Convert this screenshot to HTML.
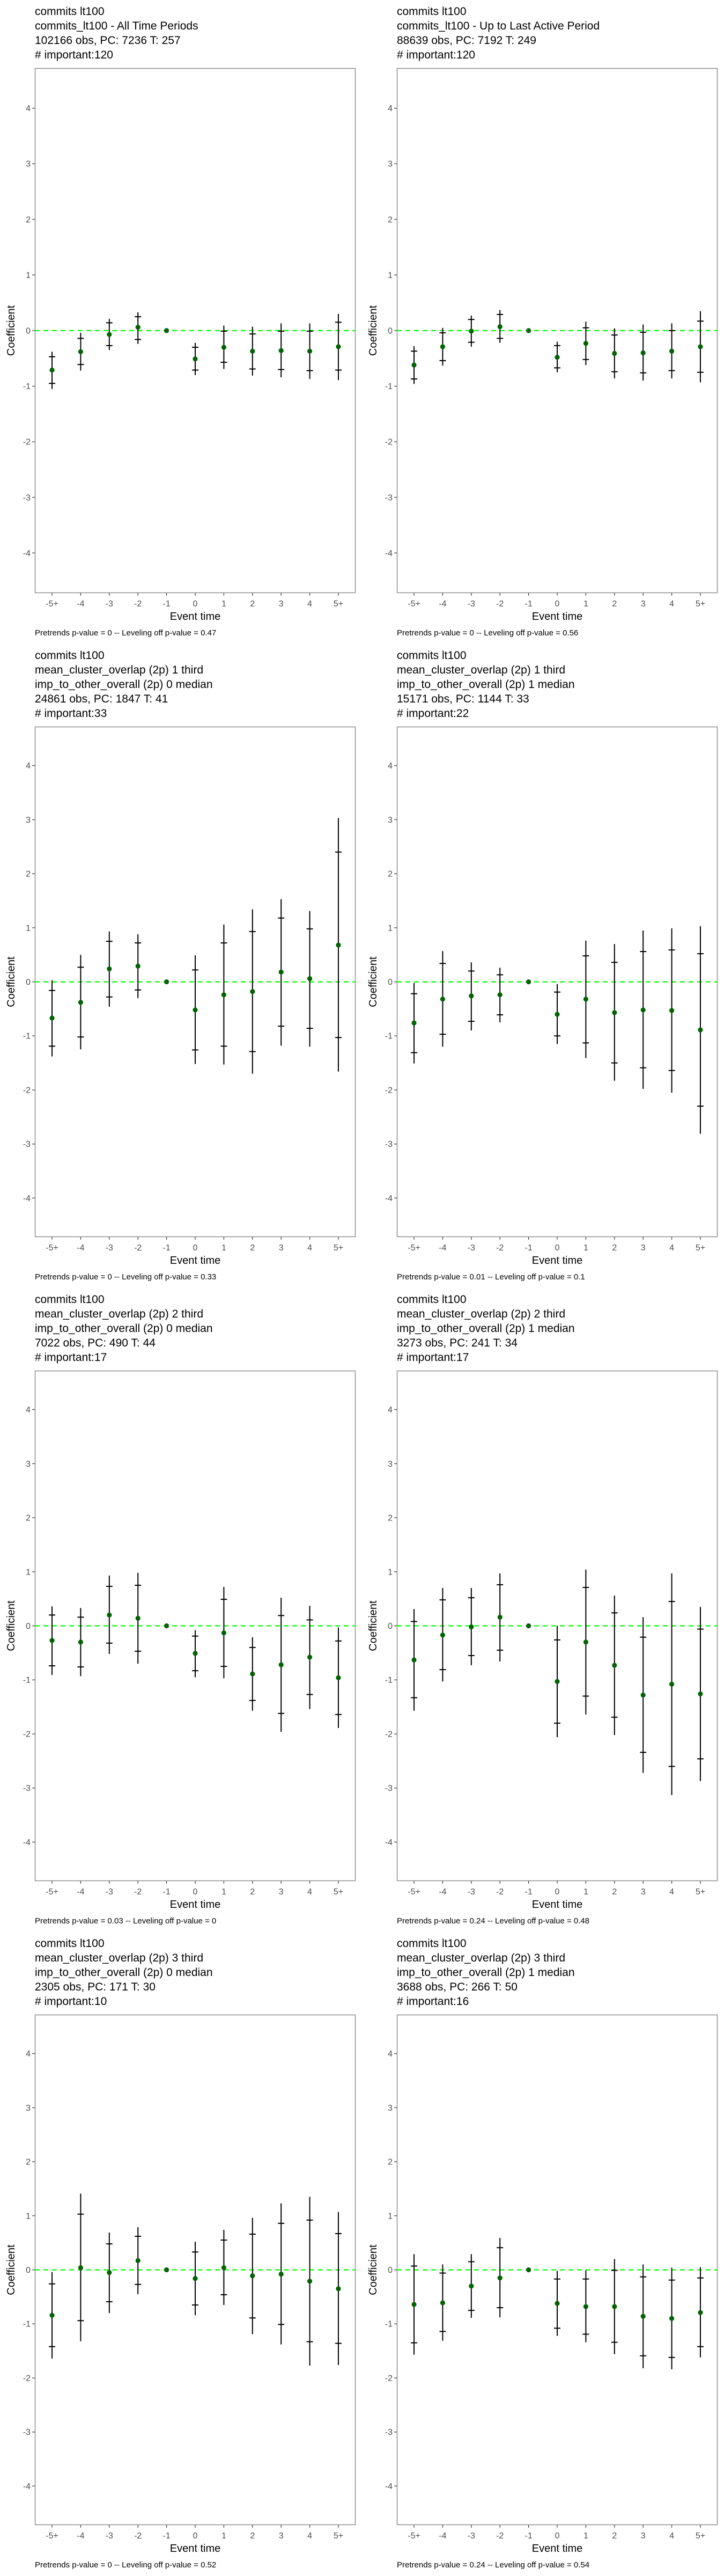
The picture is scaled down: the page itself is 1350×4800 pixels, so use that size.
<!DOCTYPE html>
<html><head><meta charset="utf-8"><style>
html,body{margin:0;padding:0;background:#fff;}
svg{display:block;font-family:"Liberation Sans",Arial,sans-serif;}
</style></head><body>
<svg id="fig" width="1350" height="4800" viewBox="0 0 1350 4800" xmlns="http://www.w3.org/2000/svg"></svg>
<script>
// ---------- data ----------
const categories = ["-5+","-4","-3","-2","-1","0","1","2","3","4","5+"];
const yTicks = [-4,-3,-2,-1,0,1,2,3,4];

const titles = [
 ["commits lt100","commits_lt100 - All Time Periods","102166 obs, PC: 7236 T: 257","# important:120"],
 ["commits lt100","commits_lt100 - Up to Last Active Period","88639 obs, PC: 7192 T: 249","# important:120"],
 ["commits lt100","mean_cluster_overlap (2p) 1 third","imp_to_other_overall (2p) 0 median","24861 obs, PC: 1847 T: 41","# important:33"],
 ["commits lt100","mean_cluster_overlap (2p) 1 third","imp_to_other_overall (2p) 1 median","15171 obs, PC: 1144 T: 33","# important:22"],
 ["commits lt100","mean_cluster_overlap (2p) 2 third","imp_to_other_overall (2p) 0 median","7022 obs, PC: 490 T: 44","# important:17"],
 ["commits lt100","mean_cluster_overlap (2p) 2 third","imp_to_other_overall (2p) 1 median","3273 obs, PC: 241 T: 34","# important:17"],
 ["commits lt100","mean_cluster_overlap (2p) 3 third","imp_to_other_overall (2p) 0 median","2305 obs, PC: 171 T: 30","# important:10"],
 ["commits lt100","mean_cluster_overlap (2p) 3 third","imp_to_other_overall (2p) 1 median","3688 obs, PC: 266 T: 50","# important:16"]
];
const pretrendP = ["0","0","0","0.01","0.03","0.24","0","0.24"];
const levelingP = ["0.47","0.56","0.33","0.1","0","0.48","0.52","0.54"];

// panel 1
const est1 = [-0.71,-0.38,-0.07,0.06,0,-0.51,-0.30,-0.37,-0.36,-0.37,-0.29];
const hiIn1 = [-0.47,-0.14,0.14,0.25,0,-0.30,-0.01,-0.06,-0.01,-0.01,0.15];
const loIn1 = [-0.95,-0.61,-0.27,-0.16,0,-0.71,-0.57,-0.69,-0.70,-0.72,-0.71];
const hiOut1 = [-0.38,-0.04,0.21,0.33,0,-0.22,0.09,0.07,0.13,0.13,0.30];
const loOut1 = [-1.05,-0.72,-0.35,-0.24,0,-0.80,-0.69,-0.81,-0.84,-0.87,-0.89];
// panel 2
const est2 = [-0.62,-0.29,-0.01,0.07,0,-0.48,-0.23,-0.41,-0.40,-0.37,-0.29];
const hiIn2 = [-0.37,-0.04,0.20,0.29,0,-0.27,0.05,-0.08,-0.03,0.00,0.17];
const loIn2 = [-0.87,-0.54,-0.21,-0.14,0,-0.67,-0.52,-0.74,-0.76,-0.72,-0.75];
const hiOut2 = [-0.28,0.05,0.27,0.37,0,-0.20,0.16,0.04,0.11,0.13,0.35];
const loOut2 = [-0.96,-0.63,-0.29,-0.22,0,-0.75,-0.62,-0.86,-0.90,-0.86,-0.93];
// panel 3
const est3 = [-0.67,-0.38,0.24,0.29,0,-0.52,-0.24,-0.18,0.18,0.06,0.68];
const hiIn3 = [-0.16,0.27,0.75,0.72,0,0.22,0.72,0.93,1.18,0.98,2.40];
const loIn3 = [-1.19,-1.02,-0.28,-0.15,0,-1.26,-1.19,-1.29,-0.82,-0.86,-1.03];
const hiOut3 = [0.03,0.50,0.93,0.88,0,0.49,1.06,1.34,1.53,1.31,3.03];
const loOut3 = [-1.38,-1.25,-0.46,-0.30,0,-1.52,-1.53,-1.70,-1.18,-1.20,-1.66];
// panel 4
const est4 = [-0.76,-0.32,-0.26,-0.24,0,-0.60,-0.32,-0.57,-0.52,-0.53,-0.89];
const hiIn4 = [-0.22,0.34,0.20,0.13,0,-0.19,0.48,0.36,0.56,0.59,0.52];
const loIn4 = [-1.31,-0.97,-0.73,-0.61,0,-1.00,-1.13,-1.50,-1.59,-1.64,-2.30];
const hiOut4 = [-0.02,0.57,0.36,0.26,0,-0.04,0.76,0.70,0.95,0.99,1.03];
const loOut4 = [-1.51,-1.20,-0.90,-0.75,0,-1.15,-1.41,-1.83,-1.98,-2.05,-2.81];
// panel 5
const est5 = [-0.27,-0.30,0.20,0.14,0,-0.51,-0.13,-0.89,-0.72,-0.58,-0.96];
const hiIn5 = [0.20,0.16,0.73,0.75,0,-0.19,0.49,-0.40,0.19,0.11,-0.28];
const loIn5 = [-0.74,-0.76,-0.32,-0.47,0,-0.83,-0.75,-1.38,-1.62,-1.27,-1.64];
const hiOut5 = [0.36,0.33,0.93,0.98,0,-0.08,0.72,-0.21,0.52,0.37,-0.03];
const loOut5 = [-0.91,-0.93,-0.52,-0.70,0,-0.95,-0.97,-1.57,-1.96,-1.54,-1.89];
// panel 6
const est6 = [-0.63,-0.17,-0.02,0.16,0,-1.03,-0.30,-0.73,-1.28,-1.08,-1.26];
const hiIn6 = [0.08,0.48,0.52,0.76,0,-0.26,0.71,0.24,-0.21,0.45,-0.06];
const loIn6 = [-1.33,-0.81,-0.55,-0.45,0,-1.80,-1.30,-1.69,-2.34,-2.60,-2.46];
const hiOut6 = [0.31,0.70,0.70,0.97,0,0.00,1.04,0.56,0.16,0.97,0.35];
const loOut6 = [-1.57,-1.03,-0.73,-0.66,0,-2.06,-1.64,-2.02,-2.72,-3.13,-2.87];
// panel 7
const est7 = [-0.84,0.04,-0.05,0.17,0,-0.16,0.04,-0.11,-0.08,-0.21,-0.35];
const hiIn7 = [-0.26,1.03,0.48,0.62,0,0.33,0.55,0.66,0.86,0.92,0.67];
const loIn7 = [-1.42,-0.94,-0.59,-0.27,0,-0.65,-0.46,-0.89,-1.01,-1.33,-1.36];
const hiOut7 = [-0.04,1.41,0.69,0.79,0,0.52,0.74,0.96,1.23,1.35,1.07];
const loOut7 = [-1.64,-1.32,-0.80,-0.45,0,-0.84,-0.65,-1.19,-1.38,-1.77,-1.76];
// panel 8
const est8 = [-0.64,-0.61,-0.30,-0.15,0,-0.62,-0.68,-0.68,-0.86,-0.90,-0.79];
const hiIn8 = [0.07,-0.06,0.15,0.41,0,-0.17,-0.17,-0.01,-0.13,-0.19,-0.15];
const loIn8 = [-1.35,-1.14,-0.75,-0.70,0,-1.08,-1.19,-1.34,-1.59,-1.62,-1.42];
const hiOut8 = [0.29,0.10,0.29,0.59,0,-0.02,-0.01,0.20,0.10,0.04,0.05];
const loOut8 = [-1.57,-1.31,-0.89,-0.88,0,-1.22,-1.34,-1.56,-1.82,-1.84,-1.62];

const panels = [
 {est:est1,hiIn:hiIn1,loIn:loIn1,hiOut:hiOut1,loOut:loOut1},
 {est:est2,hiIn:hiIn2,loIn:loIn2,hiOut:hiOut2,loOut:loOut2},
 {est:est3,hiIn:hiIn3,loIn:loIn3,hiOut:hiOut3,loOut:loOut3},
 {est:est4,hiIn:hiIn4,loIn:loIn4,hiOut:hiOut4,loOut:loOut4},
 {est:est5,hiIn:hiIn5,loIn:loIn5,hiOut:hiOut5,loOut:loOut5},
 {est:est6,hiIn:hiIn6,loIn:loIn6,hiOut:hiOut6,loOut:loOut6},
 {est:est7,hiIn:hiIn7,loIn:loIn7,hiOut:hiOut7,loOut:loOut7},
 {est:est8,hiIn:hiIn8,loIn:loIn8,hiOut:hiOut8,loOut:loOut8}
];

// ---------- drawing ----------
const NS = "http://www.w3.org/2000/svg";
const svg = document.getElementById("fig");
function mk(tag, attrs, parent, text){
  const e = document.createElementNS(NS, tag);
  for (const k in attrs) e.setAttribute(k, attrs[k]);
  if (text !== undefined) e.textContent = text;
  (parent || svg).appendChild(e);
  return e;
}
const YLIM = 4.72;

panels.forEach((p, i) => {
  const col = i % 2, row = Math.floor(i / 2);
  const ox = col * 675, oy = row * 1200;
  const nLines = titles[i].length;
  const left = ox + 65, right = ox + 663;
  const top = oy + 28 + (nLines - 1) * 27 + 18;
  const bottom = oy + 1105;
  const mid = (top + bottom) / 2;
  const unit = (bottom - top) / (2 * YLIM);
  const yS = v => mid - v * unit;
  const step = (right - left) / (categories.length - 1 + 1.2);
  const xS = k => left + step * (0.6 + k);

  const g = mk("g", {});
  
  

  // title
  const tg = mk("g", {}, g);
  
  
  titles[i].forEach((t, li) => {
    mk("text", {x: left, y: oy + 28 + li * 27, "font-size": 21, fill: "#000"}, tg, t);
  });

  // clip
  const cp = mk("clipPath", {id: "clip" + i}, g);
  mk("rect", {x: left, y: top, width: right - left, height: bottom - top}, cp);

  // panel border
  const border = mk("rect", {x: left + 0.5, y: top + 0.5, width: right - left - 1, height: bottom - top - 1, fill: "none", stroke: "#7f7f7f", "stroke-width": 1.3}, g);
  
  

  // y axis
  const ya = mk("g", {}, g);
  
  
  yTicks.forEach(t => {
    const y = yS(t);
    mk("line", {x1: left - 5, x2: left, y1: y, y2: y, stroke: "#333", "stroke-width": 1.2}, ya);
    mk("text", {x: left - 8, y: y + 5.5, "font-size": 16, fill: "#4d4d4d", "text-anchor": "end"}, ya, String(t));
  });
  const yt = mk("text", {x: 0, y: 0, "font-size": 20, fill: "#000", "text-anchor": "middle",
    transform: "translate(" + (ox + 27) + "," + mid + ") rotate(-90)"}, g, "Coefficient");
  
  

  // x axis
  const xa = mk("g", {}, g);
  
  
  categories.forEach((c, k) => {
    const x = xS(k);
    mk("line", {x1: x, x2: x, y1: bottom, y2: bottom + 5, stroke: "#333", "stroke-width": 1.2}, xa);
    mk("text", {x: x, y: oy + 1130, "font-size": 16, fill: "#4d4d4d", "text-anchor": "middle"}, xa, c);
  });
  const xt = mk("text", {x: (left + right) / 2, y: oy + 1155, "font-size": 20, fill: "#000", "text-anchor": "middle"}, g, "Event time");
  
  

  // caption
  const cap = mk("text", {x: left, y: oy + 1184, "font-size": 15, fill: "#000"}, g,
    "Pretrends p-value = " + pretrendP[i] + " -- Leveling off p-value = " + levelingP[i]);
  
  

  // zero line
  const zl = mk("line", {x1: left, x2: right, y1: yS(0), y2: yS(0), stroke: "#00ff00", "stroke-width": 2.2, "stroke-dasharray": "9,7"}, g);
  
  

  // series
  const sg = mk("g", {"clip-path": "url(#clip" + i + ")"}, g);
  
  
  categories.forEach((c, k) => {
    const x = xS(k);
    if (k !== 4) {
      const bar = mk("line", {x1: x, x2: x, y1: yS(p.hiOut[k]), y2: yS(p.loOut[k]), stroke: "#000", "stroke-width": 2}, sg);
      
      
      [p.hiIn[k], p.loIn[k]].forEach(v => {
        const cb = mk("line", {x1: x - 6, x2: x + 6, y1: yS(v), y2: yS(v), stroke: "#000", "stroke-width": 2}, sg);
        
        
      });
    }
    const pt = mk("circle", {cx: x, cy: yS(p.est[k]), r: 4.6, fill: "#006400"}, sg);
    
    
  });
});
</script>
</body></html>
